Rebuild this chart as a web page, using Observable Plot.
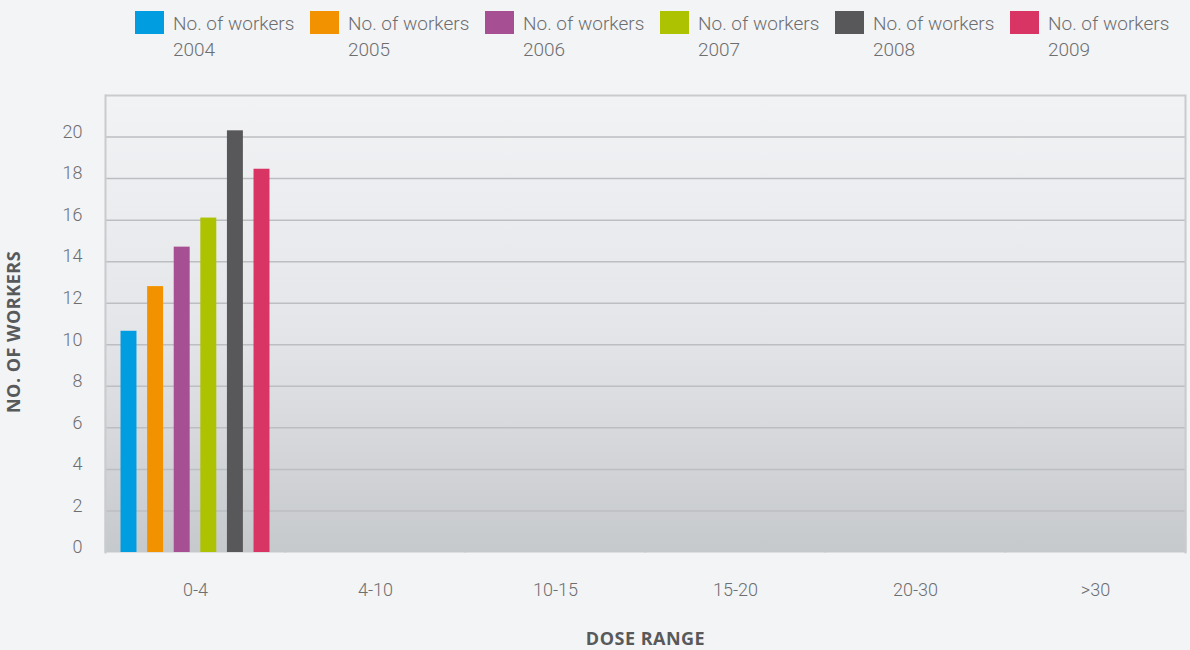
<!DOCTYPE html>
<html><head><meta charset="utf-8">
<script src="https://cdn.jsdelivr.net/npm/d3@7"></script>
<script src="https://cdn.jsdelivr.net/npm/@observablehq/plot@0.6"></script>
<style>
body{margin:0;background:#f3f4f6;font-family:Roboto,sans-serif;}
#legend{height:70px;position:relative;padding-left:135px;box-sizing:border-box;display:flex;}
.item{display:flex;width:175px;padding-top:11px;box-sizing:border-box;}
.sw{width:29px;height:23px;flex:none;}
.lt{margin-left:9px;margin-top:0px;font-size:19px;line-height:26px;color:#6d6e70;font-weight:300;white-space:nowrap;}
#chart svg g[aria-label="y-axis label"] text,
#chart svg g[aria-label="fx-axis label"] text{font-family:"Open Sans",sans-serif;font-weight:700;font-size:18px;letter-spacing:0.5px;fill:#58595b;}
#chart svg g[aria-label="y-axis label"] text{translate:0 8px;}
</style></head><body>
<svg width="0" height="0" style="position:absolute"><defs>
<linearGradient id="bg" x1="0" y1="0" x2="0" y2="1">
<stop offset="0" stop-color="#f2f3f5"/>
<stop offset="0.5" stop-color="#e5e6e9"/>
<stop offset="1" stop-color="#c6c9cc"/>
</linearGradient></defs></svg>
<div id="legend"></div>
<div id="chart"></div>
<script>
const ranges = ["0-4", "4-10", "10-15", "15-20", "20-30", ">30"];
const years = ["2004", "2005", "2006", "2007", "2008", "2009"];
const colors = ["#009ee0", "#f39200", "#a64f93", "#adc200", "#58585a", "#d83565"];
const workers2004 = [10.65, 0, 0, 0, 0, 0];
const workers2005 = [12.8, 0, 0, 0, 0, 0];
const workers2006 = [14.7, 0, 0, 0, 0, 0];
const workers2007 = [16.1, 0, 0, 0, 0, 0];
const workers2008 = [20.3, 0, 0, 0, 0, 0];
const workers2009 = [18.45, 0, 0, 0, 0, 0];
const yTicks = [0, 2, 4, 6, 8, 10, 12, 14, 16, 18, 20];
const legendLabel = "No. of workers";

const series = [workers2004, workers2005, workers2006, workers2007, workers2008, workers2009];
const data = years.flatMap((yr, i) => ranges.map((r, j) => ({year: yr, range: r, value: series[i][j]})));

const legend = document.getElementById("legend");
years.forEach((yr, i) => {
  const it = document.createElement("div");
  it.className = "item";
  it.innerHTML = `<div class="sw" style="background:${colors[i]}"></div><div class="lt">${legendLabel}<br>${yr}</div>`;
  legend.appendChild(it);
});

const chart = Plot.plot({
  width: 1190, height: 580,
  marginTop: 25, marginRight: 5, marginBottom: 98, marginLeft: 105,
  style: {background: "transparent", fontFamily: "Roboto, sans-serif"},
  fx: {domain: ranges, padding: 0},
  x: {domain: years, axis: null, paddingInner: 0.4, paddingOuter: 0.583, round: false},
  y: {domain: [0, 22]},
  color: {domain: years, range: colors},
  marks: [
    Plot.frame({fill: "url(#bg)", stroke: "none", insetLeft: -1, insetRight: -1}),
    Plot.ruleY(yTicks.filter(d => d > 0), {stroke: "#bcbec1", strokeWidth: 1.5}),
    Plot.ruleY([22], {stroke: "#cacbcd", strokeWidth: 2}),
    Plot.frame({anchor: "left", facetAnchor: "left", stroke: "#cacbcd", strokeWidth: 2}),
    Plot.frame({anchor: "right", facetAnchor: "right", stroke: "#cacbcd", strokeWidth: 2}),
    Plot.barY(data, {fx: "range", x: "year", y: "value", fill: "year"}),
    Plot.axisY({ticks: yTicks, tickSize: 0, tickPadding: 23, dy: -5, fontSize: 18, fill: "#6d6e70", fontWeight: 300,
      label: null}),
    Plot.axisY({ticks: [], tickSize: 0,
      label: "NO. OF WORKERS", labelArrow: false, labelAnchor: "center", labelOffset: 98}),
    Plot.axisFx({anchor: "bottom", tickSize: 0, tickPadding: 31, fontSize: 18, fill: "#6d6e70", fontWeight: 300,
      label: "DOSE RANGE", labelArrow: false, labelAnchor: "center", labelOffset: 92})
  ]
});
document.getElementById("chart").appendChild(chart);
</script>
</body></html>
